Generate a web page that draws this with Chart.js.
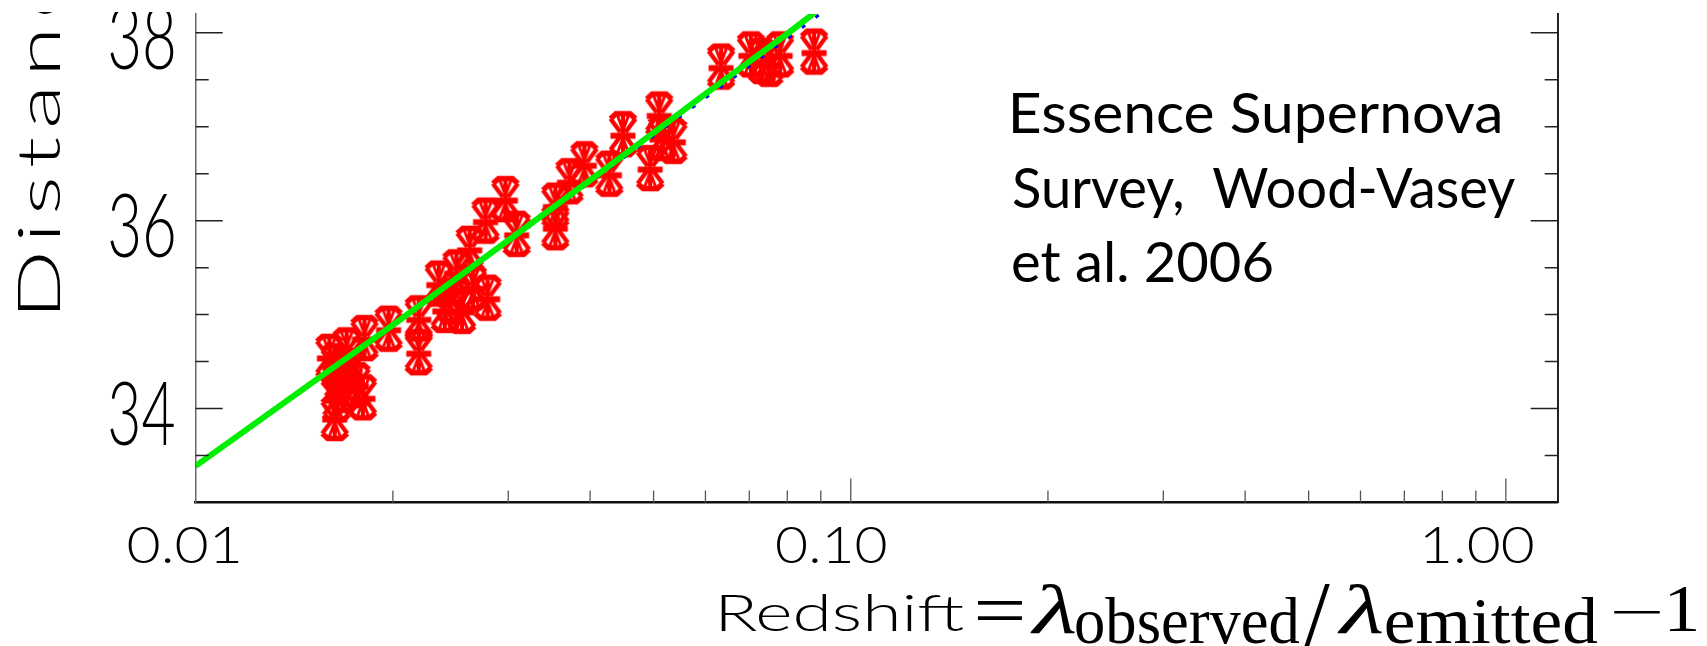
<!DOCTYPE html>
<html>
<head>
<meta charset="utf-8">
<script src="https://cdn.jsdelivr.net/npm/chart.js@4.4.1/dist/chart.umd.min.js"></script>
<style>
  html, body { margin: 0; padding: 0; background: #ffffff; overflow: hidden; }
  #wrap { position: relative; width: 1707px; height: 646px; }
  canvas { display: block; }
</style>
</head>
<body>
<div id="wrap"><canvas id="hubble" width="1707" height="646"></canvas></div>
<script>
// Type Ia supernovae: redshift and distance modulus
const snRedshift = [
  0.0160, 0.0163, 0.0165, 0.0164, 0.0163, 0.0168, 0.0172, 0.0170, 0.0176, 0.0180,
  0.0181, 0.0197, 0.0219, 0.0219, 0.0235, 0.0240, 0.0245, 0.0250, 0.0255, 0.0265,
  0.0279, 0.0262, 0.0277, 0.0297, 0.0309, 0.0354, 0.0354, 0.0372, 0.0392, 0.0428,
  0.0449, 0.0494, 0.0510, 0.0515, 0.0536, 0.0634, 0.0704, 0.0732, 0.0751, 0.0780,
  0.0879
];
const snDistance = [
  34.55, 34.45, 34.30, 34.10, 33.90, 34.20, 34.40, 34.62, 34.25, 34.12,
  34.75, 34.85, 34.96, 34.60, 35.33, 35.05, 35.15, 35.45, 35.04, 35.29,
  35.18, 35.70, 36.00, 36.23, 35.86, 36.16, 35.93, 36.42, 36.60, 36.50,
  36.92, 36.56, 37.13, 36.88, 36.85, 37.64, 37.77, 37.70, 37.67, 37.77,
  37.80
];

// Model curves (best fit and alternative cosmology)
const modelRedshift = [0.01, 0.02, 0.04, 0.06, 0.08, 0.10, 0.12];
const modelFit      = [33.39, 34.89, 36.43, 37.35, 37.99, 38.51, 38.93];
const modelAlt      = [33.39, 34.885, 36.41, 37.31, 37.94, 38.45, 38.86];

// Axis ticks and labels
const xMajorTicks = [0.01, 0.1, 1];
const xTickLabels = ['0.01', '0.10', '1.00'];
const xMinorTicks = [0.02, 0.03, 0.04, 0.05, 0.06, 0.07, 0.08, 0.09,
                     0.2, 0.3, 0.4, 0.5, 0.6, 0.7, 0.8, 0.9];
const yMajorTicks = [34, 36, 38];
const yTickLabels = ['34', '36', '38'];
const yMinorTicks = [33.5, 34.5, 35, 35.5, 36.5, 37, 37.5];

const yTitle = 'Distance';
const xTitleWord = 'Redshift';
const noteLines = ['Essence Supernova', 'Survey,  Wood-Vasey', 'et al. 2006'];

const thinFont  = s => `300 ${s}px Lato, "DejaVu Sans", sans-serif`;
const noteFont  = s => `400 ${s}px Lato, "Open Sans", sans-serif`;
const serifFont = s => `${s}px "Liberation Serif", "DejaVu Serif", serif`;
const mathFont  = s => `italic ${s}px "Liberation Serif", "DejaVu Serif", serif`;

// Hourglass-shaped marker with error bar, used as point style
function makeMarker() {
  const c = document.createElement('canvas');
  c.width = 34; c.height = 54;
  const g = c.getContext('2d');
  g.translate(17, 27);
  g.strokeStyle = '#ff0000';
  g.lineJoin = 'miter';
  for (const s of [-1, 1]) {
    g.lineWidth = 5.5;
    g.beginPath();
    g.moveTo(-12.5, s * 15.5); g.lineTo(-7, s * 20.5);
    g.lineTo(7, s * 20.5); g.lineTo(12.5, s * 15.5);
    g.stroke();
    g.lineWidth = 4.5;
    g.beginPath();
    g.moveTo(12.5, s * 15.5); g.lineTo(2.5, s * 2);
    g.moveTo(-12.5, s * 15.5); g.lineTo(-2.5, s * 2);
    g.stroke();
    g.lineWidth = 3;
    g.beginPath();
    g.moveTo(-6, s * 20); g.lineTo(0, s * 4); g.lineTo(6, s * 20);
    g.stroke();
  }
  g.lineWidth = 4;
  g.beginPath(); g.moveTo(0, -22); g.lineTo(0, 22); g.stroke();
  g.lineWidth = 6;
  g.beginPath(); g.moveTo(-12.5, 1.5); g.lineTo(12.5, 1.5); g.stroke();
  return c;
}

// Fit a string's ink into a box (x0..x1, top..bottom)
function inkBox(ctx, text, font, x0, x1, top, bottom) {
  ctx.save();
  ctx.font = font(100);
  const m0 = ctx.measureText(text);
  const size = 100 * (bottom - top) / (m0.actualBoundingBoxAscent + m0.actualBoundingBoxDescent);
  ctx.font = font(size);
  const m = ctx.measureText(text);
  const sx = (x1 - x0) / (m.actualBoundingBoxLeft + m.actualBoundingBoxRight);
  ctx.translate(x0 + sx * m.actualBoundingBoxLeft, top + m.actualBoundingBoxAscent);
  ctx.scale(sx, 1);
  ctx.textAlign = 'left';
  ctx.textBaseline = 'alphabetic';
  ctx.fillText(text, 0, 0);
  ctx.restore();
}

const decorations = {
  id: 'decorations',
  afterDraw(chart) {
    const { ctx, chartArea: a, scales } = chart;
    const x = scales.x, y = scales.y;
    ctx.save();
    ctx.beginPath();
    ctx.rect(0, 12, chart.width, chart.height - 12);
    ctx.clip();
    ctx.lineCap = 'butt';

    // tick marks on the bottom axis, pointing inward
    const xTicks = (vals, len) => {
      ctx.strokeStyle = '#555';
      ctx.lineWidth = 1.3;
      ctx.beginPath();
      vals.forEach(v => {
        const px = x.getPixelForValue(v);
        ctx.moveTo(px, a.bottom);
        ctx.lineTo(px, a.bottom - len);
      });
      ctx.stroke();
    };
    xTicks(xMinorTicks, 12);
    xTicks(xMajorTicks.slice(1), 24);

    // tick marks on left and right axes, pointing inward
    const yTicks = (vals, len) => {
      ctx.strokeStyle = '#222';
      ctx.lineWidth = 1.5;
      ctx.beginPath();
      vals.forEach(v => {
        const py = y.getPixelForValue(v);
        ctx.moveTo(a.left, py); ctx.lineTo(a.left + len, py);
        ctx.moveTo(a.right, py); ctx.lineTo(a.right - len, py);
      });
      ctx.stroke();
    };
    yTicks(yMinorTicks, 13);
    yTicks(yMajorTicks, 27);

    ctx.fillStyle = '#000';
    // y tick labels: tall, narrow thin digits
    yMajorTicks.forEach((v, i) => {
      const py = y.getPixelForValue(v);
      inkBox(ctx, yTickLabels[i], thinFont, 110, 174, py - 28, py + 37.5);
    });
    // x tick labels, sitting slightly left of their ticks
    xMajorTicks.forEach((v, i) => {
      const px = x.getPixelForValue(v);
      const left = px - 68 - 6.6 * i;
      inkBox(ctx, xTickLabels[i], thinFont, left, left + 111 - 1.5 * i, a.bottom + 24.5, a.bottom + 62.5);
    });

    // y axis title, rotated and widely spaced
    ctx.save();
    ctx.font = thinFont(100);
    const capD = ctx.measureText('D').actualBoundingBoxAscent;
    const tSize = 100 * 42 / capD;
    ctx.font = thinFont(tSize);
    ctx.letterSpacing = '5px';
    const mt = ctx.measureText('Distan');
    const ts = (310 - 33) / (mt.actualBoundingBoxLeft + mt.actualBoundingBoxRight);
    ctx.translate(60, 310);
    ctx.rotate(-Math.PI / 2);
    ctx.scale(ts, 1);
    ctx.textBaseline = 'alphabetic';
    ctx.fillText(yTitle, mt.actualBoundingBoxLeft, 0);
    ctx.restore();

    // x axis title: Redshift = lambda_observed / lambda_emitted - 1
    inkBox(ctx, xTitleWord, thinFont, 721, 964, 594, 633);
    inkBox(ctx, '=', serifFont, 977, 1023, 601, 620);
    inkBox(ctx, '\u03bb', mathFont, 1030, 1076, 584, 633);
    inkBox(ctx, 'observed', serifFont, 1076, 1300, 597, 643);
    inkBox(ctx, '/', serifFont, 1303, 1330, 584, 651);
    inkBox(ctx, '\u03bb', mathFont, 1337, 1383, 584, 633);
    inkBox(ctx, 'emitted', serifFont, 1386, 1598, 597, 643);
    inkBox(ctx, '\u2212', serifFont, 1613, 1660, 610.5, 613.5);
    inkBox(ctx, '1', serifFont, 1669, 1696, 587, 632);

    // annotation
    ctx.font = noteFont(100);
    const capE = ctx.measureText('E').actualBoundingBoxAscent;
    const nSize = 100 * 41 / capE;
    const noteRight = [1500, 1515, 1272];
    noteLines.forEach((line, i) => {
      ctx.save();
      ctx.font = noteFont(nSize);
      const m = ctx.measureText(line);
      const sx = (noteRight[i] - 1013) / (m.actualBoundingBoxLeft + m.actualBoundingBoxRight);
      ctx.translate(1013 + sx * m.actualBoundingBoxLeft, 133 + i * 74.5);
      ctx.scale(sx, 1);
      ctx.fillText(line, 0, 0);
      ctx.restore();
    });

    ctx.restore();
  }
};

const axisCommon = {
  ticks: { display: false },
  grid: { display: false, drawTicks: false }
};

new Chart(document.getElementById('hubble'), {
  data: {
    datasets: [
      {
        type: 'line',
        label: 'Best fit',
        data: modelRedshift.map((z, i) => ({ x: z, y: modelFit[i] })),
        borderColor: '#00ee00',
        borderWidth: 6,
        pointRadius: 0,
        tension: 0,
        order: 0
      },
      {
        type: 'line',
        label: 'Alternative',
        data: modelRedshift.map((z, i) => ({ x: z, y: modelAlt[i] })),
        borderColor: '#0000ff',
        borderWidth: 3.5,
        borderDash: [4, 13],
        pointRadius: 0,
        tension: 0,
        order: 1
      },
      {
        type: 'scatter',
        label: 'Supernovae',
        data: snRedshift.map((z, i) => ({ x: z, y: snDistance[i] })),
        pointStyle: makeMarker(),
        pointRadius: 13,
        order: 2
      }
    ]
  },
  options: {
    responsive: false,
    animation: false,
    devicePixelRatio: 1,
    events: [],
    layout: { padding: { left: 195.7, right: 149.3, top: 12.3, bottom: 143.5 } },
    plugins: { legend: { display: false }, tooltip: { enabled: false } },
    scales: {
      x: {
        type: 'logarithmic', position: 'bottom', min: 0.01, max: 1.2,
        ...axisCommon,
        border: { display: true, color: '#111', width: 2.5 }
      },
      y: {
        type: 'linear', position: 'left', min: 33, max: 38.2,
        ...axisCommon,
        border: { display: true, color: '#666', width: 1.5 }
      },
      yRight: {
        type: 'linear', position: 'right', min: 33, max: 38.2,
        ...axisCommon,
        border: { display: true, color: '#222', width: 2 }
      }
    }
  },
  plugins: [decorations]
});
</script>
</body>
</html>
